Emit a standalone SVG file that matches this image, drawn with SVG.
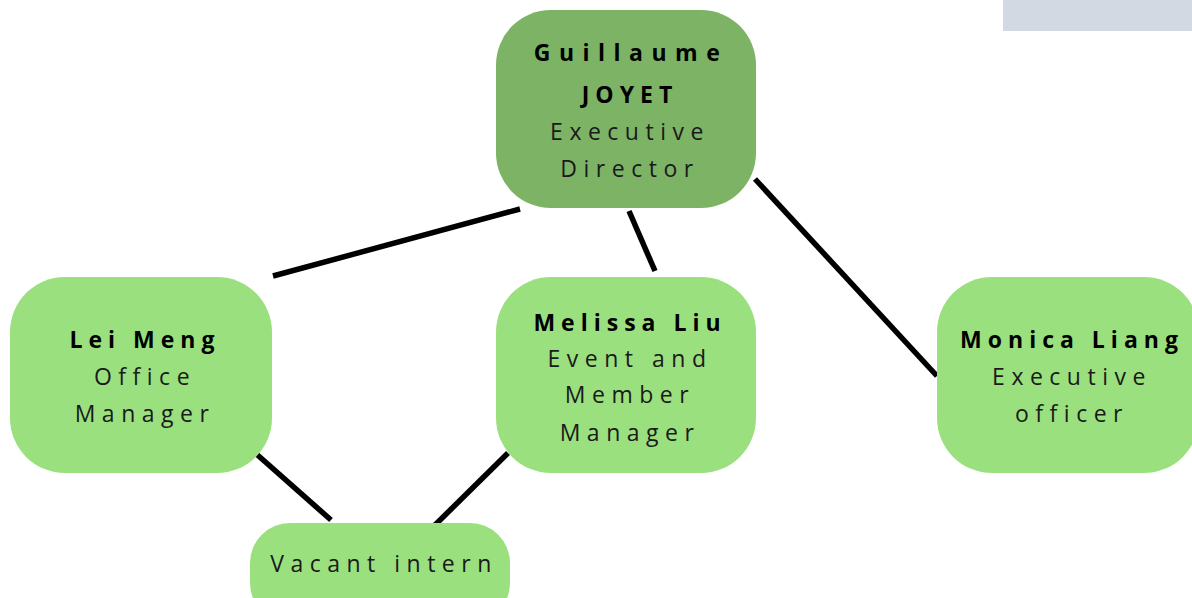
<svg xmlns="http://www.w3.org/2000/svg" width="1192" height="598" viewBox="0 0 1192 598">
<style>
.top{fill:#7db365}
.box{fill:#9be07e}
text{font-family:"Open Sans","Liberation Sans",sans-serif;font-size:23px;fill:#1a1a1a;text-anchor:middle;letter-spacing:6.5px}
.b{font-weight:bold;fill:#000;letter-spacing:6px}
.ln{stroke:#000;stroke-width:5.5;fill:none}
</style>
<rect x="1003" y="0" width="189" height="31" fill="#d3d9e3"/>
<g id="connectors">
<line class="ln" x1="273" y1="276" x2="520" y2="209"/>
<line class="ln" x1="629" y1="211" x2="655" y2="271"/>
<line class="ln" x1="755" y1="179" x2="937" y2="376"/>
<line class="ln" x1="253" y1="451" x2="331" y2="520"/>
<line class="ln" x1="508" y1="453" x2="434" y2="526"/>
</g>
<g id="n-guillaume">
<rect class="top" x="496" y="10" width="260" height="198" rx="55"/>
<text class="b" x="631" y="61" style="letter-spacing:8.5px">Guillaume</text>
<text class="b" x="630" y="103">JOYET</text>
<text x="630" y="140">Executive</text>
<text x="630" y="177">Director</text>
</g>
<g id="n-lei">
<rect class="box" x="10" y="277" width="262" height="196" rx="55"/>
<text class="b" x="145" y="348">Lei Meng</text>
<text x="145" y="385">Office</text>
<text x="145" y="422">Manager</text>
</g>
<g id="n-melissa">
<rect class="box" x="496" y="277" width="260" height="196" rx="55"/>
<text class="b" x="630" y="331">Melissa Liu</text>
<text x="630" y="367">Event and</text>
<text x="630" y="403">Member</text>
<text x="630" y="441">Manager</text>
</g>
<g id="n-monica">
<rect class="box" x="937" y="277" width="262" height="196" rx="55"/>
<text class="b" x="1072" y="348">Monica Liang</text>
<text x="1072" y="385">Executive</text>
<text x="1072" y="422">officer</text>
</g>
<g id="n-intern">
<rect class="box" x="250" y="523" width="260" height="100" rx="40"/>
<text x="384" y="572">Vacant intern</text>
</g>
</svg>
